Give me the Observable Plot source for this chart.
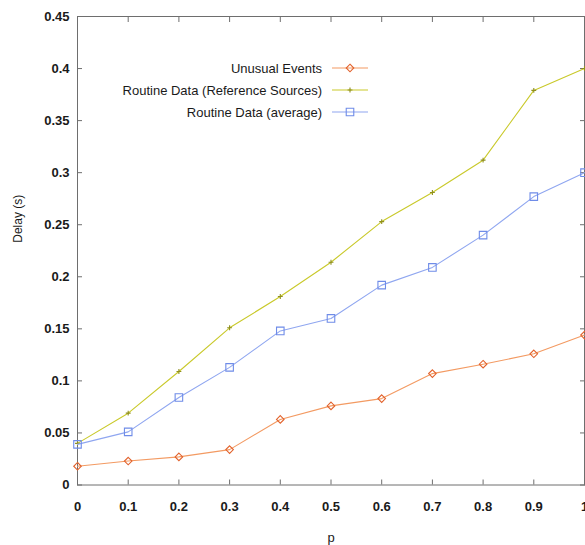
<!DOCTYPE html>
<html><head><meta charset="utf-8">
<script src="https://cdn.jsdelivr.net/npm/d3@7"></script>
<script src="https://cdn.jsdelivr.net/npm/@observablehq/plot@0.6"></script>
<style>
body{margin:0;background:#fff;overflow:hidden}
#chart{position:relative;width:585px;height:545px}
</style>
</head><body><div id="chart"></div>
<script>
// ---- data ----
const pValues = [0, 0.1, 0.2, 0.3, 0.4, 0.5, 0.6, 0.7, 0.8, 0.9, 1];
const unusualEvents = [0.018, 0.023, 0.027, 0.034, 0.063, 0.076, 0.083, 0.107, 0.116, 0.126, 0.144];
const routineReference = [0.040, 0.069, 0.109, 0.151, 0.181, 0.214, 0.253, 0.281, 0.312, 0.379, 0.400];
const routineAverage = [0.039, 0.051, 0.084, 0.113, 0.148, 0.160, 0.192, 0.209, 0.240, 0.277, 0.300];
const seriesNames = ["Unusual Events", "Routine Data (Reference Sources)", "Routine Data (average)"];
const xTicks = [0, 0.1, 0.2, 0.3, 0.4, 0.5, 0.6, 0.7, 0.8, 0.9, 1];
const yTicks = [0, 0.05, 0.1, 0.15, 0.2, 0.25, 0.3, 0.35, 0.4, 0.45];
const xLabel = "p";
const yLabel = "Delay (s)";

// ---- styles ----
const styles = [
  {line: "#f39a62", mark: "#e2622c", symbol: "diamond2", r: 3.4},
  {line: "#c9c92a", mark: "#8f8f1e", symbol: "plus", r: 1.7},
  {line: "#8fa6f0", mark: "#6f8ce8", symbol: "square2", r: 4.8}
];
const seriesValues = [unusualEvents, routineReference, routineAverage];
const rows = seriesNames.map((name, i) => pValues.map((p, j) => ({series: name, p, delay: seriesValues[i][j]})));

const fmt = d => String(+d.toFixed(2));
const frameColor = "#6e6e6e";

const seriesMarks = rows.flatMap((data, i) => [
  Plot.line(data, {x: "p", y: "delay", stroke: styles[i].line, strokeWidth: 1.1}),
  Plot.dot(data, {x: "p", y: "delay", stroke: styles[i].mark, fill: "none", symbol: styles[i].symbol, r: styles[i].r, strokeWidth: 1.1})
]);

const chart = Plot.plot({
  width: 585, height: 545,
  marginLeft: 77, marginTop: 16, marginRight: 1, marginBottom: 60.5,
  style: {fontFamily: "'Liberation Sans', Arial, sans-serif", fontSize: "13px", background: "#fff", color: "#1a1a1a", overflow: "visible"},
  x: {domain: [0, 1]},
  y: {domain: [0, 0.45]},
  marks: [
    Plot.axisX({ticks: xTicks, anchor: "bottom", tickSize: 0, tickPadding: 17, tickFormat: fmt, label: null, fontWeight: "bold"}),
    Plot.axisX({ticks: xTicks, anchor: "bottom", tickSize: -5, tickFormat: () => "", label: null, stroke: frameColor}),
    Plot.axisX({ticks: xTicks, anchor: "top", tickSize: -5, tickFormat: () => "", label: null, stroke: frameColor}),
    Plot.axisY({ticks: yTicks, anchor: "left", tickSize: 0, tickPadding: 8, tickFormat: fmt, label: null, fontWeight: "bold"}),
    Plot.axisY({ticks: yTicks, anchor: "left", tickSize: -5, tickFormat: () => "", label: null, stroke: frameColor}),
    Plot.axisY({ticks: yTicks, anchor: "right", tickSize: -5, tickFormat: () => "", label: null, stroke: frameColor}),
    Plot.frame({stroke: frameColor}),
    ...seriesMarks,
    Plot.text([yLabel], {frameAnchor: "left", rotate: -90, dx: -59, dy: -8, fontSize: 12}),
    Plot.text([xLabel], {frameAnchor: "bottom", dy: 57, fontSize: 13})
  ]
});

document.getElementById("chart").appendChild(chart);

// ---- legend (inside plot, top) ----
const svg = d3.select(chart);
const legend = svg.append("g").attr("font-family", "'Liberation Sans', Arial, sans-serif").attr("font-size", 13);
const legendY = [68, 90, 112];
seriesNames.forEach((name, i) => {
  const y = legendY[i];
  legend.append("text").attr("x", 322).attr("y", y).attr("dy", "0.35em").attr("text-anchor", "end").attr("fill", "#1a1a1a").text(name);
  legend.append("line").attr("x1", 332).attr("x2", 368).attr("y1", y).attr("y2", y).attr("stroke", styles[i].line).attr("stroke-width", 1.1);
  const sym = {diamond2: d3.symbolDiamond2, plus: d3.symbolPlus, square2: d3.symbolSquare2}[styles[i].symbol];
  legend.append("path").attr("transform", `translate(350,${y})`)
    .attr("d", d3.symbol(sym, Math.PI * styles[i].r * styles[i].r)())
    .attr("fill", "none").attr("stroke", styles[i].mark).attr("stroke-width", 1.1);
});
</script>
</body></html>
